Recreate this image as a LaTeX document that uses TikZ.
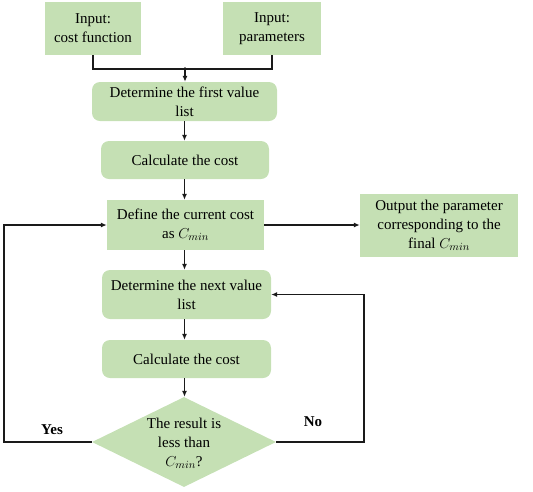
\documentclass[tikz,border=0pt]{standalone}
\usepackage{fontspec}
\setmainfont{Liberation Serif}
\usetikzlibrary{shapes.geometric,arrows.meta}
\definecolor{boxgreen}{HTML}{C5E0B4}
\definecolor{linegray}{HTML}{1A1A1A}
\begin{document}
\begin{tikzpicture}[x=1pt,y=-1pt,
  font=\fontsize{15}{19}\selectfont,
  box/.style={fill=boxgreen, draw=none, align=center, inner sep=0pt, text=black},
  rbox/.style={box, rounded corners=8pt},
  conn/.style={draw=linegray, line width=1.6pt},
  arr/.style={conn, -{Latex[length=6pt,width=5pt]}},
  lbl/.style={font=\fontsize{15}{19}\selectfont\bfseries, text=black}]
\useasboundingbox (0,0) rectangle (533,491);
\node[box, minimum width=96pt, minimum height=53pt] (in1) at (93,28.5) {Input:\\cost function};
\node[box, minimum width=98pt, minimum height=53pt] (in2) at (272,28.5) {Input:\\parameters};
\node[rbox, minimum width=185pt, minimum height=39pt] (first) at (184.5,101.5) {Determine the first value\\list};
\node[rbox, minimum width=168pt, minimum height=38pt] (calc1) at (185,160) {Calculate the cost};
\node[box, minimum width=157pt, minimum height=50pt] (def) at (185.5,225) {Define the current cost\\as $C_{min}$};
\node[box, minimum width=158pt, minimum height=63pt] (out) at (439,225) {Output the parameter\\corresponding to the\\final $C_{min}$};
\node[rbox, minimum width=169pt, minimum height=49pt] (next) at (186.5,294.5) {Determine the next value\\list};
\node[rbox, minimum width=169pt, minimum height=38pt] (calc2) at (186.5,359) {Calculate the cost};
\node[diamond, fill=boxgreen, draw=none, minimum width=184pt, minimum height=90pt, inner sep=0pt] (dia) at (184,442) {};
\node[align=center, text=black] (diatext) at (184,443) {The result is\\less than\\$C_{min}$?};
\coordinate (junc) at (185,69);
\coordinate (yx) at (4,0);
\coordinate (nx) at (364,0);
\coordinate (ax) at (184.5,0);
\draw[conn] (in1.south) -- (in1.south |- junc) -- (in2.south |- junc) -- (in2.south);
\fill[linegray] (junc) circle (1.8pt);
\draw[arr] (junc) -- (junc |- first.north);
\draw[arr] (first.south -| ax) -- (calc1.north -| ax);
\draw[arr] (calc1.south -| ax) -- (def.north -| ax);
\draw[arr] (def.east) -- (def.east -| out.west);
\draw[arr] (def.south -| ax) -- (next.north -| ax);
\draw[arr] (next.south -| ax) -- (calc2.north -| ax);
\draw[arr] (calc2.south -| ax) -- (dia.north -| ax);
\draw[arr] (dia.west) -- (dia.west -| yx) |- (def.west);
\draw[arr] (dia.east) -- (dia.east -| nx) |- (next.east);
\node[lbl] (yes) at (52,430) {Yes};
\node[lbl] (no) at (313,422) {No};
\end{tikzpicture}
\end{document}
